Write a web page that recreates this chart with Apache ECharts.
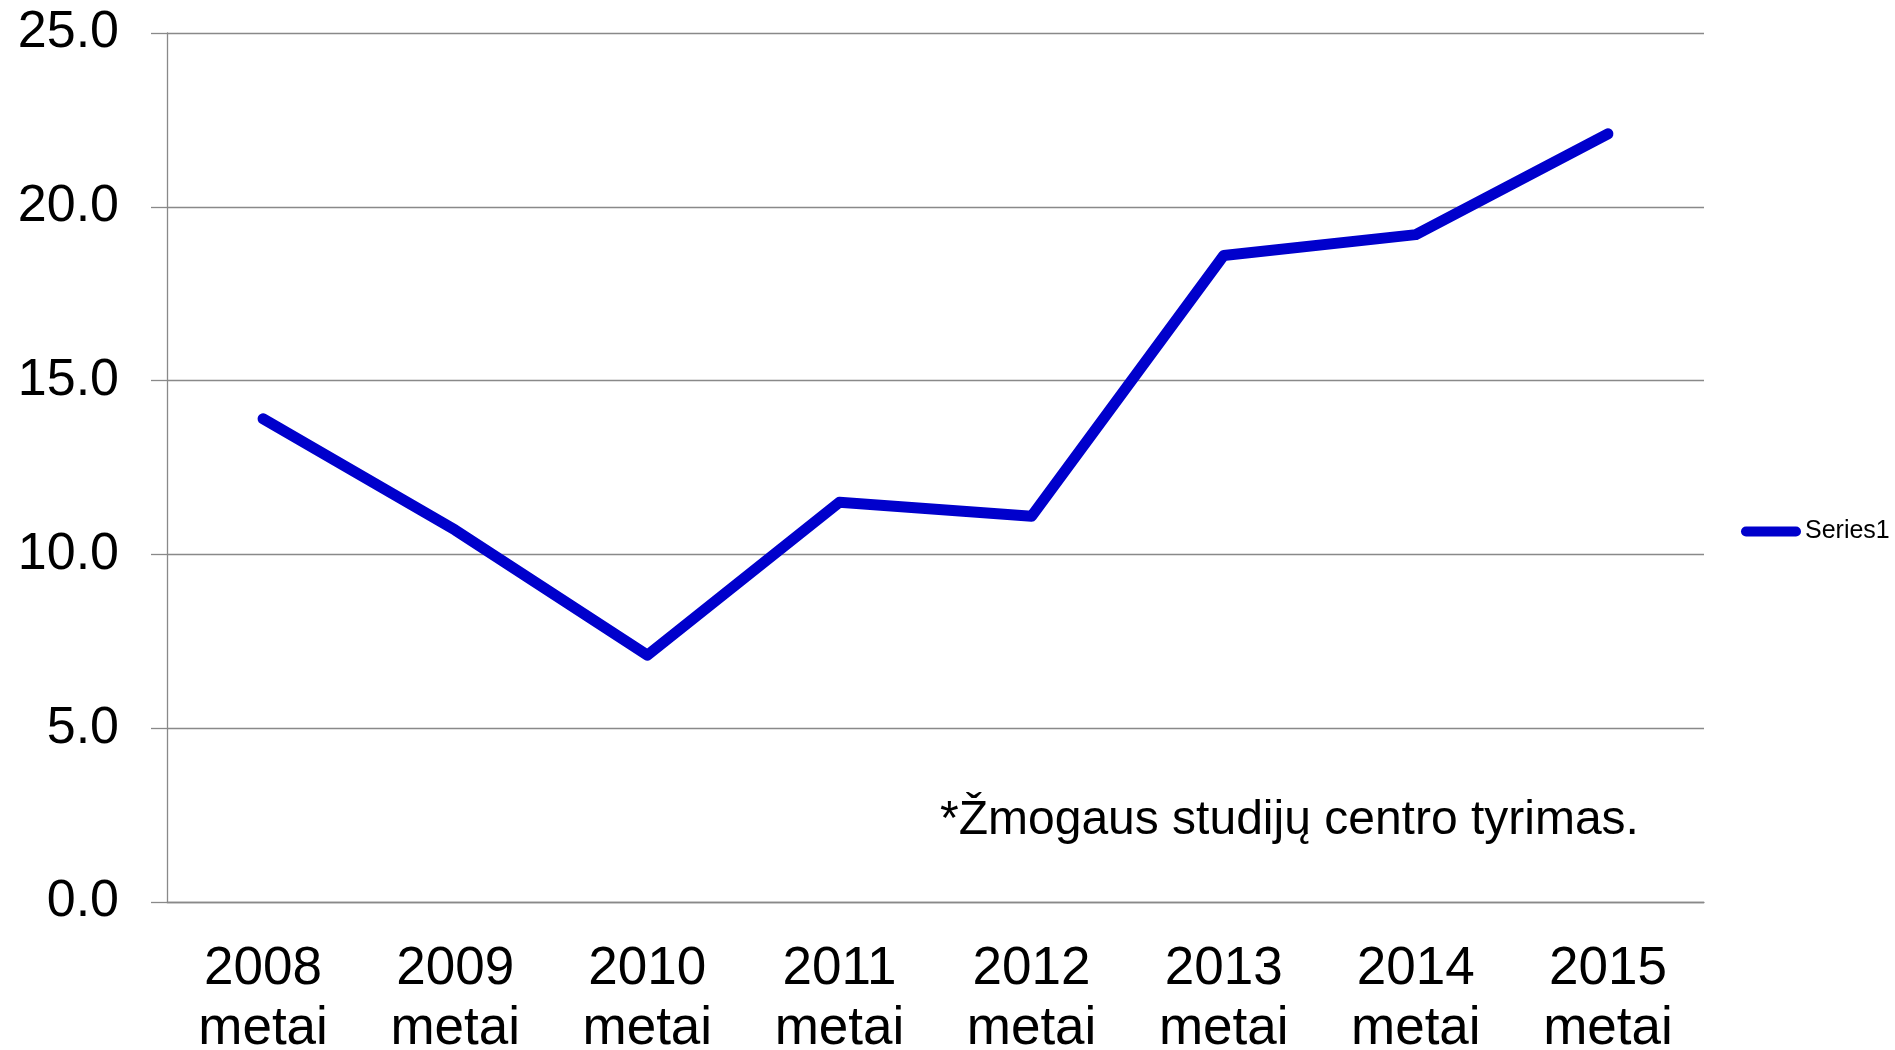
<!DOCTYPE html>
<html>
<head>
<meta charset="utf-8">
<script src="https://cdn.jsdelivr.net/npm/echarts@6/dist/echarts.min.js"></script>
<style>
  html, body { margin: 0; padding: 0; background: #fff; }
  #chart { width: 1895px; height: 1050px; }
</style>
</head>
<body>
<div id="chart"></div>
<script>
const categories = ["2008\nmetai", "2009\nmetai", "2010\nmetai", "2011\nmetai",
  "2012\nmetai", "2013\nmetai", "2014\nmetai", "2015\nmetai"];
const series1 = [13.9, 10.7, 7.1, 11.5, 11.1, 18.6, 19.2, 22.1];
const yTicks = { min: 0, max: 25, interval: 5 };
const note = "*Žmogaus studijų centro tyrimas.";

const FONT = "Liberation Sans, Arial, sans-serif";
const GRAY = "#898989";

const chart = echarts.init(document.getElementById("chart"), null, { renderer: "canvas" });

chart.setOption({
  backgroundColor: "#ffffff",
  animation: false,
  grid: { left: 167, right: 191, top: 33, bottom: 148, outerBoundsMode: "none" },
  legend: {
    orient: "vertical",
    left: 1741,
    top: 519,
    padding: 0,
    icon: "path://M5,0 L55,0 A5,5 0 0 1 55,10 L5,10 A5,5 0 0 1 5,0 Z",
    itemWidth: 60,
    itemHeight: 10,
    itemGap: 0,
    textStyle: { fontFamily: FONT, fontSize: 25, color: "#000", padding: [0, 0, 0, -1] },
    data: ["Series1"]
  },
  xAxis: {
    type: "category",
    data: categories,
    boundaryGap: true,
    axisLine: { lineStyle: { color: GRAY, width: 1.3 } },
    axisTick: { length: 16, lineStyle: { color: GRAY, width: 1.3 } },
    axisLabel: {
      fontFamily: FONT,
      fontSize: 53,
      lineHeight: 60,
      color: "#000",
      margin: 37,
      interval: 0
    },
    splitLine: { show: false }
  },
  yAxis: {
    type: "value",
    min: yTicks.min,
    max: yTicks.max,
    interval: yTicks.interval,
    axisLine: { show: true, lineStyle: { color: GRAY, width: 1.3 } },
    axisTick: { show: true, length: 16, lineStyle: { color: GRAY, width: 1.3 } },
    axisLabel: {
      fontFamily: FONT,
      fontSize: 52,
      color: "#000",
      margin: 48,
      formatter: v => v.toFixed(1)
    },
    splitLine: { lineStyle: { color: GRAY, width: 1.3 } }
  },
  series: [{
    name: "Series1",
    type: "line",
    data: series1,
    symbol: "none",
    itemStyle: { color: "#0000CC" },
    lineStyle: { color: "#0000CC", width: 11, cap: "round", join: "round" }
  }],
  graphic: [{
    type: "text",
    left: 940,
    top: 797,
    style: {
      text: note,
      font: "48px " + FONT,
      fill: "#000"
    }
  }]
});
</script>
</body>
</html>
